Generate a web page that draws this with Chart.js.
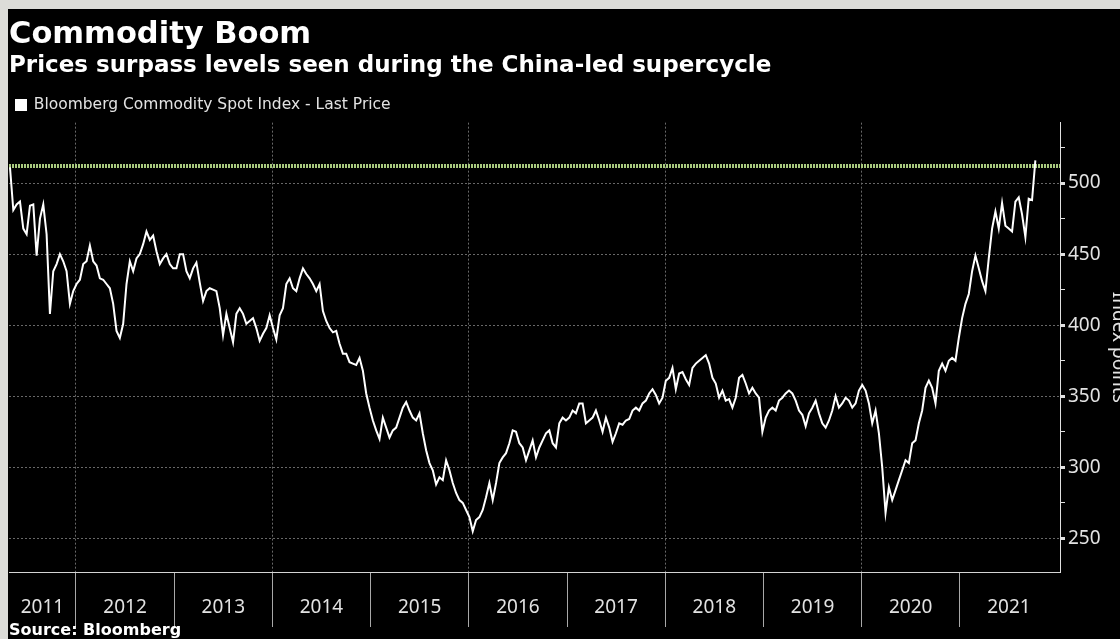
<!DOCTYPE html>
<html>
<head>
<meta charset="utf-8">
<script src="https://cdn.jsdelivr.net/npm/chart.js@4.4.1/dist/chart.umd.min.js"></script>
<style>
  html, body { margin: 0; padding: 0; background: #dcdcd8; overflow: hidden; }
  #wrap { position: absolute; left: 8px; top: 9px; width: 1150px; height: 630px; background: #000; }
</style>
</head>
<body>
<div id="wrap"><canvas id="chart"></canvas></div>
<script>
// readings taken every ~12 days, starting late April 2011 (decimal years)
const firstSample = 2011.328;
const sampleStep = 0.0339;

const spotPrices = [
  511, 481, 485, 487, 468, 464, 484, 485, 449, 475, 485, 464, 408, 438, 443, 450, 445, 438, 415, 424,
  429, 432, 443, 445, 456, 445, 442, 433, 432, 429, 426, 415, 396, 391, 401, 429, 445, 438, 447, 450,
  457, 466, 460, 463, 452, 443, 447, 450, 443, 440, 440, 450, 450, 438, 433, 440, 444, 430, 417, 424,
  426, 425, 424, 412, 393, 408, 398, 388, 408, 412, 408, 401, 403, 405, 398, 389, 394, 398, 407, 398,
  390, 407, 412, 429, 433, 426, 424, 433, 440, 436, 433, 429, 424, 429, 410, 403, 398, 395, 396, 387,
  380, 380, 374, 373, 372, 377, 368,
  352, 342, 333, 326, 320, 335, 328, 321, 326, 328, 335, 342, 346, 340, 335, 333, 338, 324, 312, 303,
  298, 288, 293, 291, 305, 298, 289, 282, 277, 275, 270, 265, 255, 263, 265, 270, 279, 289, 277, 289,
  303, 307, 310, 317, 326, 325, 317, 314, 305, 312, 319, 307, 314, 319, 324, 326, 317, 314, 331, 335,
  333, 335, 340, 338, 345,
  345, 331, 333, 335, 340, 333, 325, 335, 328, 318, 324, 331, 330, 333, 334, 340, 342, 340, 345, 347,
  352, 355, 351, 345, 349, 361, 363, 370, 355, 366, 367, 362, 358, 370, 373, 375, 377, 379, 373, 363,
  359, 349, 354, 347, 348, 342, 349, 363, 365, 359, 352, 356, 352, 349, 325, 335, 340, 342, 340, 347,
  349, 352, 354, 352, 347, 340, 337, 329, 338, 342, 347, 338, 331, 328, 333, 340, 350, 342, 345, 349,
  347, 342, 345, 354, 358, 354, 345, 331, 340, 324,
  300, 268, 286, 277, 284, 291, 298, 305, 303, 317, 319, 331, 340, 356, 361, 356, 345, 368, 373, 368,
  375, 377, 375, 391, 405, 415, 422, 438, 449, 440, 431, 424, 447, 468, 480, 468, 486, 470, 468, 466,
  487, 490, 478, 462, 489, 488, 516
];

// 2011 peak level, drawn as the dotted reference line
const supercycleHigh = 512;

const yearLabels = ['2011', '2012', '2013', '2014', '2015', '2016', '2017', '2018', '2019', '2020', '2021'];
const yearBounds = [2012, 2013, 2014, 2015, 2016, 2017, 2018, 2019, 2020, 2021];
const priceTicks = [250, 275, 300, 325, 350, 375, 400, 425, 450, 475, 500, 525];

const xMin = 2011.318;
const xMax = 2022.02;
const yMin = 226.4;
const yMax = 542.5;

const textColor = '#e2e2e2';
const gridColor = '#686868';

const pricePoints = spotPrices.map((v, i) => ({ x: firstSample + i * sampleStep, y: v }));

// year labels sit in the middle of the visible part of each year
const labelAt = new Map();
yearLabels.forEach((label, i) => {
    const y0 = Math.max(2011 + i, xMin);
    const y1 = Math.min(2012 + i, xMax);
    labelAt.set(+((y0 + y1) / 2).toFixed(4), label);
});

const isBound = v => Number.isInteger(v);

new Chart(document.getElementById('chart'), {
    type: 'line',
    data: {
        datasets: [
            {
                label: 'Bloomberg Commodity Spot Index - Last Price',
                data: pricePoints,
                borderColor: '#ffffff',
                backgroundColor: '#ffffff',
                borderWidth: 2,
                pointRadius: 0,
                tension: 0,
                order: 0
            },
            {
                label: 'China-led supercycle high',
                data: [{ x: xMin, y: supercycleHigh }, { x: xMax, y: supercycleHigh }],
                borderColor: '#a8c97e',
                borderWidth: 4,
                borderDash: [2, 1],
                pointRadius: 0,
                order: 1
            }
        ]
    },
    options: {
        animation: false,
        responsive: true,
        maintainAspectRatio: false,
        devicePixelRatio: 1,
        layout: { padding: { left: 1, right: 0, top: 0, bottom: 0 } },
        plugins: {
            title: {
                display: true,
                text: 'Commodity Boom',
                align: 'start',
                color: '#ffffff',
                font: { family: 'DejaVu Sans', size: 30.5, weight: 'bold', lineHeight: 1.1 },
                padding: { top: 9, bottom: 0 }
            },
            subtitle: {
                display: true,
                text: 'Prices surpass levels seen during the China-led supercycle',
                align: 'start',
                color: '#ffffff',
                font: { family: 'DejaVu Sans', size: 23, weight: 'bold', lineHeight: 1.1 },
                padding: { top: 1.5, bottom: 11.8 }
            },
            legend: {
                display: true,
                align: 'start',
                labels: {
                    color: textColor,
                    font: { family: 'DejaVu Sans', size: 15.5 },
                    boxWidth: 10,
                    boxHeight: 10,
                    padding: 7,
                    filter: item => item.datasetIndex === 0
                }
            },
            tooltip: { enabled: false }
        },
        scales: {
            x: {
                type: 'linear',
                min: xMin,
                max: xMax,
                afterBuildTicks: scale => {
                    const vals = yearBounds.concat([...labelAt.keys()]).sort((a, b) => a - b);
                    scale.ticks = vals.map(v => ({ value: v }));
                },
                afterFit: scale => { scale.height = 67; },
                ticks: {
                    autoSkip: false,
                    maxRotation: 0,
                    padding: -31,
                    color: textColor,
                    font: { family: 'Noto Sans', size: 19 },
                    callback: v => labelAt.get(+v.toFixed(4)) || ''
                },
                grid: {
                    color: c => (c.tick && isBound(c.tick.value) && c.tick.value % 2 === 0) ? gridColor : 'transparent',
                    tickColor: c => (c.tick && isBound(c.tick.value)) ? '#a8a8a8' : 'transparent',
                    tickLength: 55,
                    lineWidth: 1,
                    tickWidth: 1
                },
                border: { color: '#d4d4d4', width: 1, dash: [2, 2] },
                title: {
                    display: true,
                    text: 'Source: Bloomberg',
                    align: 'start',
                    color: '#ffffff',
                    font: { family: 'DejaVu Sans', size: 16, weight: 'bold', lineHeight: 1.0 },
                    padding: { top: 0, bottom: 0 }
                }
            },
            y: {
                position: 'right',
                min: yMin,
                max: yMax,
                afterBuildTicks: scale => { scale.ticks = priceTicks.map(v => ({ value: v })); },
                afterFit: scale => { scale.width = 98; },
                ticks: {
                    autoSkip: false,
                    padding: 3,
                    color: textColor,
                    font: { family: 'Noto Sans', size: 19 },
                    callback: v => (v % 50 === 0 ? v : '')
                },
                grid: {
                    color: c => (c.tick && c.tick.value % 50 === 0) ? gridColor : 'transparent',
                    tickColor: '#e0e0e0',
                    tickLength: 5,
                    tickWidth: c => (c.tick && c.tick.value % 50 === 0) ? 3 : 1
                },
                border: { color: '#e0e0e0', width: 1, dash: [2, 2] },
                title: {
                    display: true,
                    text: 'Index points',
                    color: textColor,
                    font: { family: 'Noto Sans', size: 19, lineHeight: 1.2 },
                    padding: { top: 28, bottom: 0 }
                }
            }
        }
    }
});
</script>
</body>
</html>
